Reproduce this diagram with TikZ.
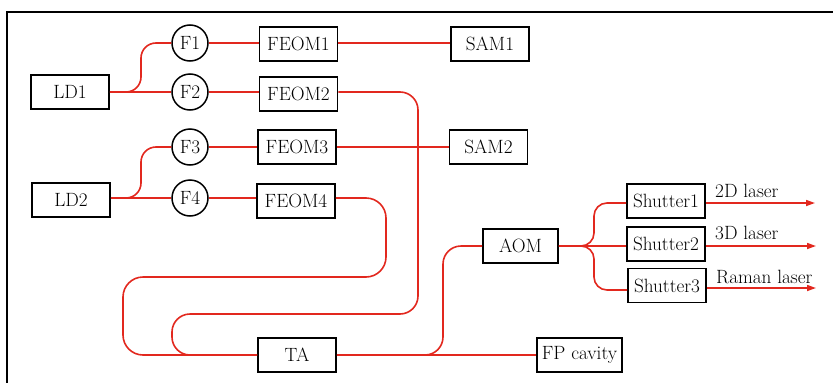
\documentclass[tikz,border=0pt]{standalone}
\usepackage{fontspec}
\usetikzlibrary{arrows.meta}
\definecolor{fib}{RGB}{226,40,30}
\begin{document}
\begin{tikzpicture}[x=1pt,y=-1pt,
  txt/.style={font=\fontsize{19.2}{21}\selectfont},
  box/.style={txt,draw=black,line width=1.8pt,minimum width=78pt,minimum height=34pt,inner sep=0pt},
  filt/.style={txt,draw=black,circle,line width=1.5pt,minimum size=36pt,inner sep=0pt},
  fiber/.style={draw=fib,line width=1.6pt,rounded corners=16pt},
  outarrow/.style={draw=fib,line width=1.6pt,-{Triangle[length=9pt,width=6pt]}},
  lbl/.style={txt,anchor=base west,inner sep=0pt}]
\useasboundingbox (0,0) rectangle (833,383);
\draw[line width=1.8pt] (7,384) -- (7,12) -- (834,12);
% nodes
\node[box] (LD1) at (70,92) {LD1};
\node[box] (LD2) at (71,200) {LD2};
\node[filt] (F1) at (190,43) {F1};
\node[filt] (F2) at (190,92) {F2};
\node[filt] (F3) at (190,147) {F3};
\node[filt] (F4) at (190,198) {F4};
\node[box] (FEOM1) at (298.5,44) {FEOM1};
\node[box] (FEOM2) at (298.5,94) {FEOM2};
\node[box] (FEOM3) at (297,147) {FEOM3};
\node[box] (FEOM4) at (296,201) {FEOM4};
\node[box] (SAM1) at (490,44) {SAM1};
\node[box] (SAM2) at (488.5,147) {SAM2};
\node[box] (TA) at (297,355) {TA};
\node[box,minimum width=85pt] (FP) at (579.5,355) {FP cavity};
\node[box,minimum width=75pt] (AOM) at (520.5,246) {AOM};
\node[box] (S1) at (666,201) {Shutter1};
\node[box] (S2) at (666,244) {Shutter2};
\node[box] (S3) at (667,285.5) {Shutter3};
\coordinate (e1) at (815,203);
\coordinate (e2) at (816,246);
\coordinate (e3) at (816,288);
% connectors
\draw[fiber] (LD1.east) -- (F2.west);
\draw[fiber,rounded corners=15pt] (LD1.east) -- (141,92) |- (F1.west);
\draw[fiber] (F1.east) -- (FEOM1.west |- F1.east);
\draw[fiber] (FEOM1.east |- F1.east) -- (SAM1.west |- F1.east);
\draw[fiber] (F2.east) -- (FEOM2.west |- F2.east);
\draw[fiber,rounded corners=18pt] (FEOM2.east |- F2.east) -| (418,314) -- (172,314) -- (172,355) -- (TA.west);
\draw[fiber] (LD2.east |- F4.west) -- (F4.west);
\draw[fiber,rounded corners=15pt] (LD2.east |- F4.west) -- (141,198) |- (F3.west);
\draw[fiber] (F3.east) -- (FEOM3.west);
\draw[fiber] (FEOM3.east) -- (SAM2.west);
\draw[fiber] (F4.east) -- (FEOM4.west |- F4.east);
\draw[fiber,rounded corners=20pt] (FEOM4.east |- F4.east) -| (386,277) -- (123,277) -- (123,355) -- (TA.west);
\draw[fiber] (TA.east) -- (FP.west);
\draw[fiber,rounded corners=18pt] (TA.east) -- (443,355) |- (AOM.west);
\draw[fiber] (AOM.east) -- (AOM.east -| S2.west);
\draw[fiber,rounded corners=13pt] (AOM.east) -- (594,246) |- ([yshift=-2pt]S1.west);
\draw[fiber,rounded corners=13pt] (AOM.east) -- (594,246) |- ([yshift=-4.5pt]S3.west);
\draw[outarrow] (S1.east |- e1) -- (e1);
\draw[outarrow] (S2.east |- e2) -- (e2);
\draw[outarrow] (S3.east |- e3) -- (e3);
\node[lbl] (L1) at (715,197) {2D laser};
\node[lbl] (L2) at (715,239) {3D laser};
\node[lbl] (L3) at (716,283) {Raman laser};
\end{tikzpicture}
\end{document}
